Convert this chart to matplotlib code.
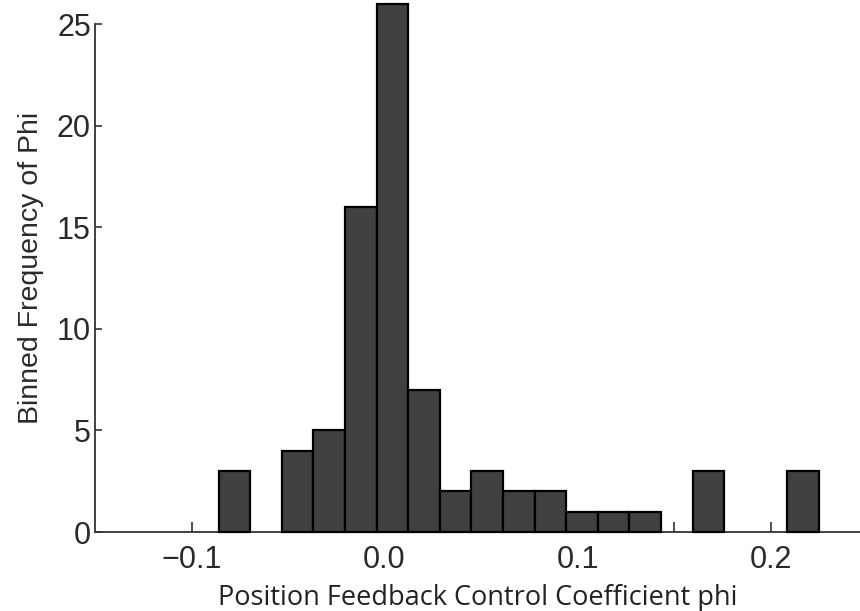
import numpy as np
import matplotlib
matplotlib.use('Agg')
import matplotlib.pyplot as plt

# bin edges (left edge of each bin + final right edge) and counts
bin_edges = [-0.0860, -0.0696, -0.0532, -0.0369, -0.0205, -0.0041, 0.0122,
             0.0286, 0.0450, 0.0614, 0.0777, 0.0941, 0.1105, 0.1268,
             0.1432, 0.1596, 0.1760, 0.1923, 0.2087, 0.2251]
counts = [3, 0, 4, 5, 16, 26, 7, 2, 3, 2, 2, 1, 1, 1, 0, 3, 0, 0, 3]
x_tick_labels = ['\u22120.1', '0.0', '0.1', '0.2']
y_ticks = [0, 5, 10, 15, 20, 25]

edges = np.array(bin_edges)
widths = np.diff(edges)
cnt = np.array(counts)
keep = cnt > 0

fig = plt.figure(figsize=(8.6, 6.11), dpi=100)
ax = fig.add_axes([95 / 860, 79 / 611, 765 / 860, 528.3 / 611])

ax.bar(edges[:-1][keep], cnt[keep], width=widths[keep], align='edge',
       color='#404040', edgecolor='black', linewidth=1.6, clip_on=False,
       zorder=3)

ax.set_xlim(-0.15, 0.2463)
ax.set_ylim(0, 26)

# spines
for s in ['top', 'right']:
    ax.spines[s].set_visible(False)
for s in ['left', 'bottom']:
    ax.spines[s].set_color('#333333')
    ax.spines[s].set_linewidth(1.3)
ax.spines['left'].set_bounds(0, 25)

# ticks
ax.set_xticks([-0.1, 0.0, 0.1, 0.2])
ax.set_xticklabels(x_tick_labels)
ax.set_xticks([-0.05, 0.05, 0.15], minor=True)
ax.set_yticks(y_ticks)
ax.tick_params(axis='both', which='both', direction='in', colors='#333333',
               width=1.2, labelcolor='#2a2a2a')
ax.tick_params(axis='x', which='both', length=7, pad=9)
ax.tick_params(axis='y', length=5, pad=3)
for lab in ax.get_xticklabels() + ax.get_yticklabels():
    lab.set_fontfamily('Liberation Sans')
    lab.set_fontsize(22)

ax.set_xlabel('Position Feedback Control Coefficient phi', fontsize=19.5,
              family='Open Sans', color='#222222', labelpad=7)
ax.set_ylabel('Binned Frequency of Phi', fontsize=20.5,
              family='Liberation Sans', color='#2a2a2a', labelpad=9)

fig.savefig('out.png', dpi=100)
